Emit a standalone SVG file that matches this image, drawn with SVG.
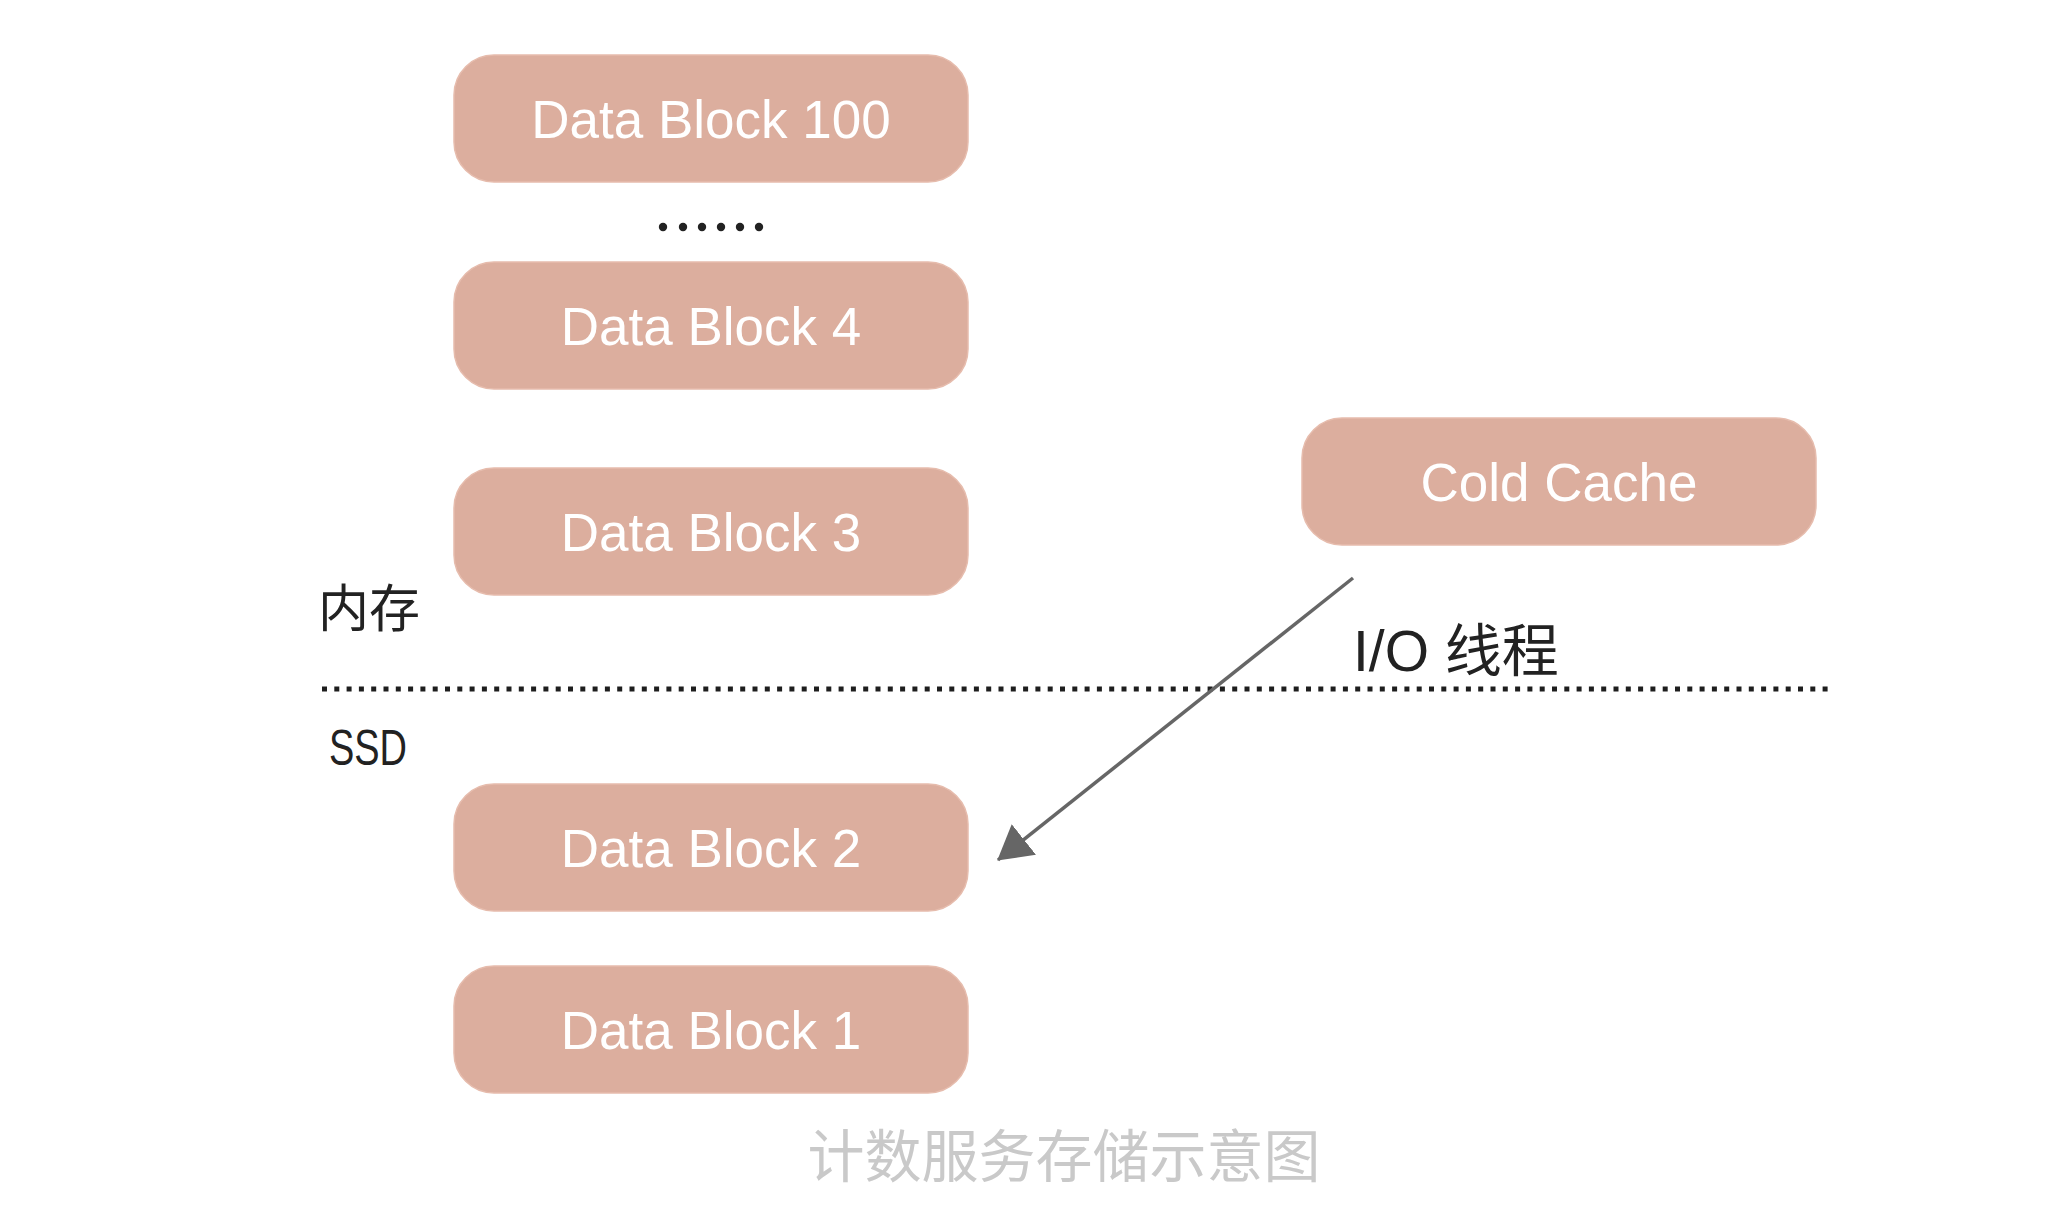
<svg xmlns="http://www.w3.org/2000/svg" width="2052" height="1230" viewBox="0 0 2052 1230">
  <style>
    .box { fill: #dcae9e; stroke: #e6bcad; stroke-width: 1.5; }
    .btxt { font-family: "Liberation Sans", "Noto Sans", sans-serif; font-size: 53px; fill: #ffffff; text-anchor: middle; }
    .lbl { font-family: "Liberation Sans", "Noto Sans CJK SC", sans-serif; fill: #222222; }
    .cap { font-family: "Noto Sans CJK SC", sans-serif; font-size: 57px; fill: #c9c9c9; text-anchor: middle; }
  </style>
  <defs>
    <marker id="arrow" viewBox="0 0 34 39" refX="33" refY="19.5" markerWidth="34" markerHeight="39" markerUnits="userSpaceOnUse" orient="auto">
      <path d="M0,0 L34,19.5 L0,39 Z" fill="#666666"/>
    </marker>
  </defs>
  <rect width="2052" height="1230" fill="#ffffff"/>

  <g id="divider">
    <line x1="322" y1="689" x2="1830" y2="689" stroke="#1e1e1e" stroke-width="5" stroke-dasharray="5 7.3"/>
  </g>

  <g id="ellipsis" fill="#222222">
    <circle cx="663" cy="227" r="4.2"/>
    <circle cx="683" cy="227" r="4.2"/>
    <circle cx="702" cy="227" r="4.2"/>
    <circle cx="721" cy="227" r="4.2"/>
    <circle cx="740" cy="227" r="4.2"/>
    <circle cx="759" cy="227" r="4.2"/>
  </g>

  <g id="node-db100">
    <rect class="box" x="454" y="55" width="514" height="127" rx="40"/>
    <text class="btxt" x="711" y="138">Data Block 100</text>
  </g>
  <g id="node-db4">
    <rect class="box" x="454" y="262" width="514" height="127" rx="40"/>
    <text class="btxt" x="711" y="345">Data Block 4</text>
  </g>
  <g id="node-db3">
    <rect class="box" x="454" y="468" width="514" height="127" rx="40"/>
    <text class="btxt" x="711" y="551">Data Block 3</text>
  </g>
  <g id="node-db2">
    <rect class="box" x="454" y="784" width="514" height="127" rx="40"/>
    <text class="btxt" x="711" y="867">Data Block 2</text>
  </g>
  <g id="node-db1">
    <rect class="box" x="454" y="966" width="514" height="127" rx="40"/>
    <text class="btxt" x="711" y="1049">Data Block 1</text>
  </g>
  <g id="node-coldcache">
    <rect class="box" x="1302" y="418" width="514" height="127" rx="40"/>
    <text class="btxt" x="1559" y="501">Cold Cache</text>
  </g>

  <g id="label-memory">
    <text class="lbl" x="318" y="627" font-size="51">内存</text>
  </g>
  <g id="label-ssd">
    <text class="lbl" x="329" y="765" font-size="50" textLength="78" lengthAdjust="spacingAndGlyphs">SSD</text>
  </g>

  <g id="connectors">
    <line x1="1353" y1="578" x2="998" y2="860" stroke="#666666" stroke-width="3.5" marker-end="url(#arrow)"/>
    <text class="lbl" x="1353" y="671" font-size="57">I/O 线程</text>
  </g>

  <g id="caption">
    <text class="cap" x="1064" y="1177">计数服务存储示意图</text>
  </g>
</svg>
